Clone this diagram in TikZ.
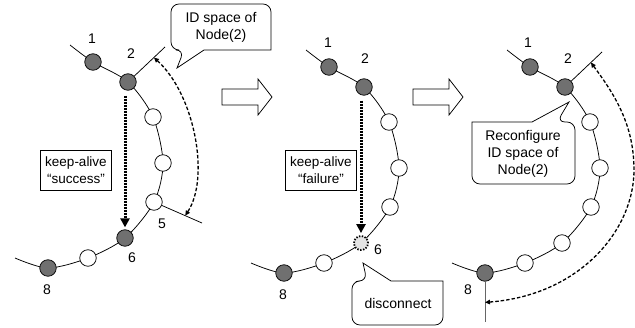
\documentclass[tikz,border=0pt]{standalone}
\usepackage{fontspec}
\setmainfont{Liberation Sans}
\usetikzlibrary{arrows.meta,calc}
\definecolor{nodegray}{RGB}{112,112,112}
\definecolor{lostgray}{RGB}{228,228,228}
\begin{document}
\begin{tikzpicture}[x=1pt,y=-1pt,
  ringline/.style={line width=0.75pt},
  fullnode/.style={circle,draw,line width=0.75pt,fill=nodegray,minimum size=16.5pt,inner sep=0pt},
  emptynode/.style={circle,draw,line width=0.75pt,fill=white,minimum size=16.5pt,inner sep=0pt},
  lostnode/.style={circle,draw,line width=1.8pt,dash pattern=on 1.4pt off 1.5pt,fill=lostgray,minimum size=14pt,inner sep=0pt},
  idlabel/.style={font=\fontsize{14}{16}\selectfont,inner sep=0pt},
  tickline/.style={line width=0.75pt},
  spanarrow/.style={line width=1.3pt,dash pattern=on 3.5pt off 2pt,
    {Triangle[length=5pt,width=4.5pt]}-{Triangle[length=5pt,width=4.5pt]}},
  probe/.style={line width=3pt,dash pattern=on 2pt off 1pt,-{Triangle[length=9pt,width=9pt]}},
  msgbox/.style={draw,line width=0.75pt,font=\fontsize{13.5}{16.5}\selectfont,align=center,
    minimum width=71pt,minimum height=40pt,inner sep=0pt},
  bubbletext/.style={font=\fontsize{14}{17}\selectfont,align=center,inner sep=0pt},
  bubble/.style={draw,line width=0.75pt,fill=white},
  stepshape/.style={draw,line width=0.75pt,fill=white},
]
\useasboundingbox (0,0) rectangle (635,327);

% the ring segment shared by all three stages
\newcommand{\ringpath}{%
  \draw[ringline] plot[smooth] coordinates {(70,45) (93,62) (128,82) (153,117) (163,163)
    (154,202) (125,238) (88,258) (48,268) (15,258)};}

% ---------- stage 1: keep-alive succeeds ----------
\begin{scope}[name prefix=a-]
  \ringpath
  \coordinate (t2) at (165,47);
  \coordinate (t5) at (202,223);
  \node[fullnode]  (n1) at (93,62) {};
  \node[fullnode]  (n2) at (128,82) {};
  \node[emptynode] (n3) at (153,117) {};
  \node[emptynode] (n4) at (163,163) {};
  \node[emptynode] (n5) at (154,202) {};
  \node[fullnode]  (n6) at (125,238) {};
  \node[emptynode] (n7) at (88,258) {};
  \node[fullnode]  (n8) at (48,268) {};
  \draw[tickline] (n2) -- (t2);
  \draw[tickline] (n5) -- (t5);
  \coordinate (s2) at ($(n2.center)!0.7!(t2)$);
  \coordinate (s5) at ($(n5.center)!0.65!(t5)$);
  \draw[spanarrow] (s2) .. controls (195,95) and (210,178) .. (s5);
  \draw[probe,shorten <=5pt,shorten >=2pt] (n6.north |- n2.south) -- (n6.north);
  \node[msgbox] (msg) at (76,170) {keep-alive\\“success”};
  \node[idlabel] (l1) at (92,39) {1};
  \node[idlabel] (l2) at (131,54) {2};
  \node[idlabel] (l5) at (162,224) {5};
  \node[idlabel] (l6) at (132,258) {6};
  \node[idlabel] (l8) at (47,290) {8};
\end{scope}

% ---------- stage 2: keep-alive fails ----------
\begin{scope}[shift={(236,5)},name prefix=b-]
  \ringpath
  \node[fullnode]  (n1) at (93,62) {};
  \node[fullnode]  (n2) at (128,82) {};
  \node[emptynode] (n3) at (153,117) {};
  \node[emptynode] (n4) at (163,163) {};
  \node[emptynode] (n5) at (154,202) {};
  \node[lostnode]  (n6) at (125,238) {};
  \node[emptynode] (n7) at (88,258) {};
  \node[fullnode]  (n8) at (48,268) {};
  \draw[probe,shorten <=5pt,shorten >=2pt] (n6.north |- n2.south) -- (n6.north);
  \node[msgbox] (msg) at (85,165) {keep-alive\\“failure”};
  \node[idlabel] (l1) at (92,38) {1};
  \node[idlabel] (l2) at (129,54) {2};
  \node[idlabel] (l6) at (142,245) {6};
  \node[idlabel] (l8) at (47,290) {8};
\end{scope}

% ---------- stage 3: ID space reassigned ----------
\begin{scope}[shift={(437,5)},name prefix=c-]
  \ringpath
  \coordinate (t2) at (165,47);
  \coordinate (v8) at (48,317);
  \node[fullnode]  (n1) at (93,62) {};
  \node[fullnode]  (n2) at (128,82) {};
  \node[emptynode] (n3) at (153,117) {};
  \node[emptynode] (n4) at (163,163) {};
  \node[emptynode] (n5) at (154,202) {};
  \node[emptynode] (n6) at (125,238) {};
  \node[emptynode] (n7) at (88,258) {};
  \node[fullnode]  (n8) at (48,268) {};
  \draw[tickline] (n2) -- (t2);
  \draw[tickline,draw=black!60] (n8) -- (v8);
  \coordinate (s2) at ($(n2.center)!0.7!(t2)$);
  \coordinate (s8) at ($(n8.center)!0.6!(v8)$);
  \draw[spanarrow] (s2) .. controls (178,90) and (197,120) .. (197,165)
                        .. controls (197,225) and (143,290) .. (s8);
  \node[idlabel] (l1) at (91,38) {1};
  \node[idlabel] (l2) at (131,54) {2};
  \node[idlabel] (l8) at (31,285) {8};
\end{scope}

% stage arrows
\draw[stepshape] (222,89) -- (258,89) -- (258,79) -- (272,97) -- (258,115) -- (258,105) -- (222,105) -- cycle;
\draw[stepshape] (413,89) -- (449,89) -- (449,79) -- (463,97) -- (449,115) -- (449,105) -- (413,105) -- cycle;

% speech bubbles
\draw[bubble] (177,68) -- (204,50) -- (271,50) [rounded corners=8pt] -- (271,4) -- (171,4)
  -- (171,50) -- (184,50) [sharp corners] -- cycle;
\node[bubbletext] (idspace) at (221,27) {ID space of\\Node(2)};

\draw[bubble] (363,263) -- (391,281) -- (443,281) [rounded corners=8pt] -- (443,325) -- (352,325)
  -- (352,281) -- (367,281) [sharp corners] -- cycle;
\node[bubbletext] (disc) at (398,303) {disconnect};

\draw[bubble] (569,102) -- (532,122) -- (472,122) [rounded corners=8pt] -- (472,184) -- (575,184)
  -- (575,122) -- (557,122) [sharp corners] -- cycle;
\node[bubbletext] (reconf) at (523,154) {Reconfigure\\ID space of\\Node(2)};
\end{tikzpicture}
\end{document}
